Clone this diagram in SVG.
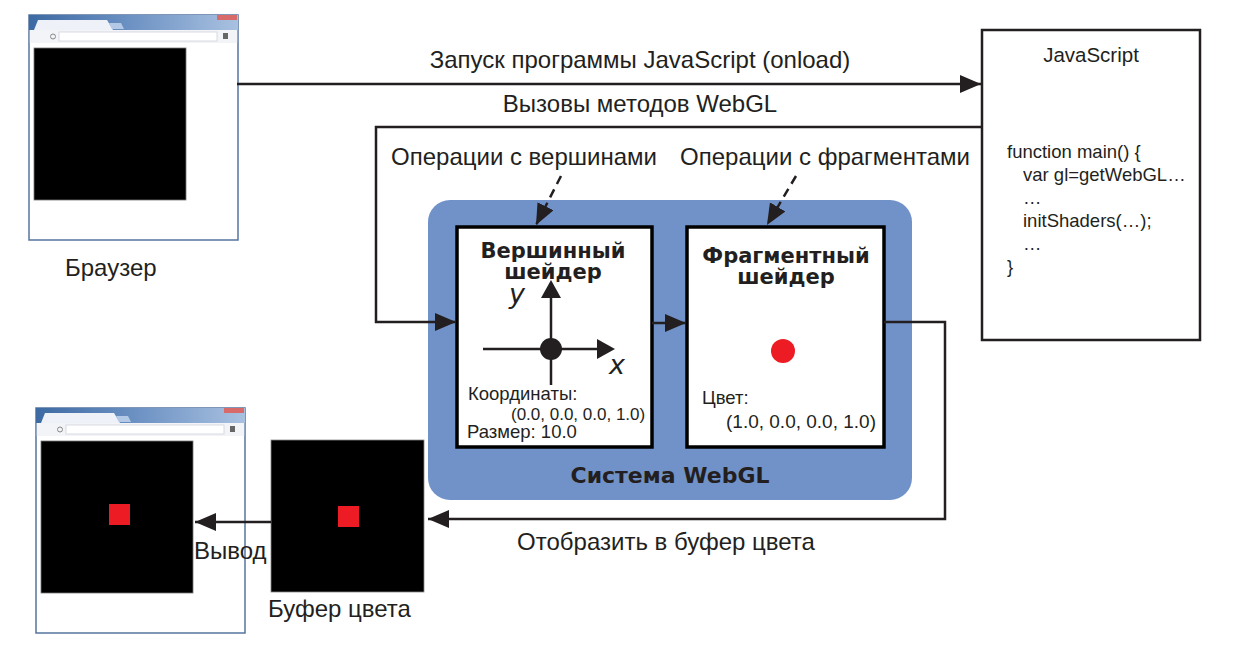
<svg xmlns="http://www.w3.org/2000/svg" width="1233" height="645" viewBox="0 0 1233 645">
<defs>
<style>
.lbl{font-family:"Liberation Sans",Arial,sans-serif;font-size:24px;fill:#231f20}
.sm{font-family:"Liberation Sans",Arial,sans-serif;font-size:18.5px;fill:#231f20}
.xs{font-family:"Liberation Sans",Arial,sans-serif;font-size:17px;fill:#231f20}
.bold{font-family:"DejaVu Sans",sans-serif;font-weight:bold;font-size:21px;fill:#231f20}
.code{font-family:"Liberation Sans",Arial,sans-serif;font-size:18.5px;fill:#231f20}
.ax{font-family:"DejaVu Sans",sans-serif;font-style:italic;font-size:27px;fill:#231f20}
.ln{fill:none;stroke:#231f20;stroke-width:2.5}
.dash{fill:none;stroke:#231f20;stroke-width:2.5;stroke-dasharray:9 6}
.box{fill:#fff;stroke:#000;stroke-width:3.5}
</style>
<marker id="arr" markerUnits="userSpaceOnUse" markerWidth="22" markerHeight="18" refX="21" refY="9" orient="auto">
<path d="M0,0 L21,9 L0,18 z" fill="#231f20"/>
</marker>
<linearGradient id="tg" x1="0" y1="0" x2="1" y2="0">
<stop offset="0" stop-color="#3d6aa3"/>
<stop offset="0.5" stop-color="#6e93c4"/>
<stop offset="1" stop-color="#a9c1e0"/>
</linearGradient>
<g id="chrome">
<rect x="0" y="0" width="209" height="225" fill="#fff" stroke="#55749f" stroke-width="1.5"/>
<rect x="0" y="0" width="209" height="15" fill="url(#tg)"/>
<path d="M5,15 L9,5 L78,5 L84,15 z" fill="#eef2f8"/>
<path d="M80,8 L92,8 L95,14 L83,14 z" fill="#b4c9e6"/>
<rect x="188" y="0" width="20" height="5" fill="#d86a6a"/>
<rect x="0.8" y="15" width="207.4" height="13" fill="#f2f4f7"/>
<rect x="30" y="17" width="158" height="9" fill="#fff" stroke="#cfd3d9" stroke-width="0.8"/>
<circle cx="24" cy="21.5" r="2.5" fill="none" stroke="#888" stroke-width="1"/>
<rect x="194" y="18" width="5" height="6" fill="#666"/>
<rect x="5" y="33" width="152" height="152" fill="#000" stroke="#777" stroke-width="0.8"/>
</g>
</defs>
<rect width="1233" height="645" fill="#fff"/>

<g id="browser">
<use href="#chrome" x="29" y="15"/>
<text class="lbl" x="65" y="276">Браузер</text>
</g>

<g id="javascript">
<rect x="982" y="30" width="218" height="310" fill="#fff" stroke="#231f20" stroke-width="2.5"/>
<text class="code" x="1091" y="62" text-anchor="middle" style="font-size:20.5px">JavaScript</text>
<text class="code" x="1007" y="158">function main() {</text>
<text class="code" x="1023" y="181">var gl=getWebGL…</text>
<text class="code" x="1023" y="204">…</text>
<text class="code" x="1023" y="227">initShaders(…);</text>
<text class="code" x="1023" y="250">…</text>
<text class="code" x="1007" y="273">}</text>
</g>

<g id="webgl">
<rect x="428" y="200" width="484" height="300" rx="22" fill="#7092c8"/>
<text class="bold" x="670" y="483" text-anchor="middle" style="font-size:22px">Система WebGL</text>
</g>

<g id="vertex-shader">
<rect class="box" x="457" y="227" width="195" height="220"/>
<text class="bold" text-anchor="middle"><tspan x="553" y="258">Вершинный</tspan><tspan x="553" y="279">шейдер</tspan></text>
<line class="ln" x1="551" y1="385" x2="551" y2="298"/>
<path d="M541,298 L551,280 L561,298 z" fill="#231f20"/>
<line class="ln" x1="483" y1="349" x2="598" y2="349"/>
<path d="M597,339 L615,349 L597,359 z" fill="#231f20"/>
<circle cx="551" cy="349" r="11" fill="#231f20"/>
<text class="ax" x="509" y="303">y</text>
<text class="ax" x="609" y="374">x</text>
<text class="sm" x="468" y="400">Координаты:</text>
<text class="xs" x="511" y="420">(0.0, 0.0, 0.0, 1.0)</text>
<text class="sm" x="467" y="438">Размер: 10.0</text>
</g>

<g id="fragment-shader">
<rect class="box" x="687" y="227" width="197" height="220"/>
<text class="bold" text-anchor="middle"><tspan x="786" y="263">Фрагментный</tspan><tspan x="786" y="284">шейдер</tspan></text>
<circle cx="783" cy="351" r="12" fill="#ed1c24"/>
<text class="sm" x="702" y="404">Цвет:</text>
<text class="sm" x="726" y="428" style="font-size:19px">(1.0, 0.0, 0.0, 1.0)</text>
</g>

<g id="color-buffer">
<rect x="271" y="440" width="153" height="152" fill="#000" stroke="#888" stroke-width="0.8"/>
<rect x="338" y="506" width="21" height="21" fill="#ed1c24"/>
<text class="lbl" x="268" y="617">Буфер цвета</text>
</g>

<g id="browser-output">
<use href="#chrome" x="36" y="408"/>
<rect x="109" y="504" width="21" height="21" fill="#ed1c24"/>
</g>

<g id="connectors">
<line class="ln" x1="237" y1="84" x2="981" y2="84" marker-end="url(#arr)"/>
<polyline class="ln" points="982,127 376,127 376,322 456,322" marker-end="url(#arr)"/>
<line class="ln" x1="652" y1="323" x2="686" y2="323" marker-end="url(#arr)"/>
<polyline class="ln" points="884,322 945,322 945,519 428,519" marker-end="url(#arr)"/>
<line class="ln" x1="271" y1="522" x2="195" y2="522" marker-end="url(#arr)"/>
<line class="dash" x1="561" y1="176" x2="536" y2="225" marker-end="url(#arr)"/>
<line class="dash" x1="796" y1="176" x2="767" y2="225" marker-end="url(#arr)"/>
</g>

<g id="labels">
<text class="lbl" x="640" y="68" text-anchor="middle">Запуск программы JavaScript (onload)</text>
<text class="lbl" x="640" y="112" text-anchor="middle">Вызовы методов WebGL</text>
<text class="lbl" x="524" y="165" text-anchor="middle">Операции с вершинами</text>
<text class="lbl" x="825" y="165" text-anchor="middle">Операции с фрагментами</text>
<text class="lbl" x="666" y="550" text-anchor="middle">Отобразить в буфер цвета</text>
<text class="lbl" x="194" y="559">Вывод</text>
</g>
</svg>
